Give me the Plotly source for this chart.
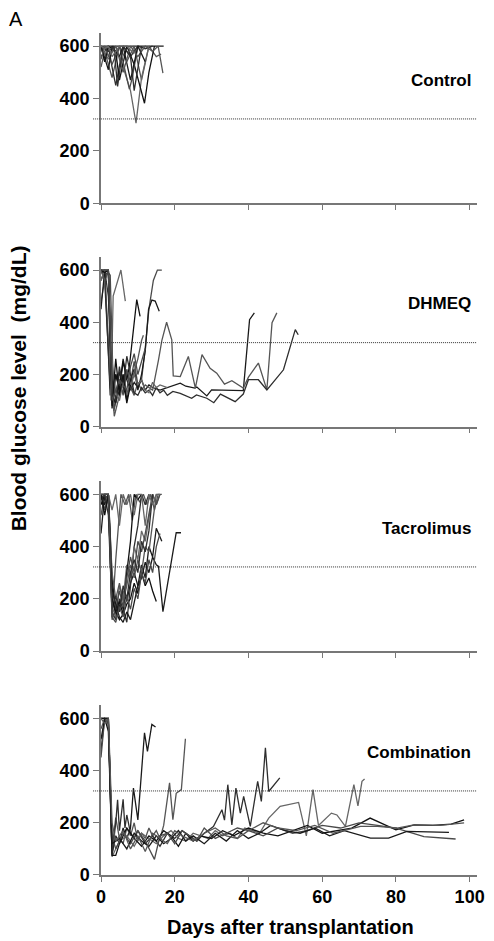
import plotly.graph_objects as go

# ---------------- DATA ----------------
x_tick_vals = [0, 20, 40, 60, 80, 100]
x_tick_labels = ["0", "20", "40", "60", "80", "100"]
y_tick_vals = [0, 200, 400, 600]
y_tick_labels = ["0", "200", "400", "600"]
threshold = 322
panel_names = ["Control", "DHMEQ", "Tacrolimus", "Combination"]

control_days = [
    [0, 2, 4, 6, 8, 10, 12, 14, 16, 17],
    [0, 1, 3, 5, 7, 9, 11, 13, 15, 16.3],
    [0, 2, 3, 4, 6, 8, 10, 12, 14],
    [0, 2, 4, 6, 8, 9.5, 11, 13],
    [0, 1, 2, 4, 5, 7, 9, 11.8, 13, 14.5],
    [0, 1, 3, 5, 7.7, 8.5, 10],
    [0, 2, 3, 5, 6, 8, 10, 12],
    [0, 1, 2, 4, 6, 8, 10, 12, 14, 15.5, 16.8],
    [0, 2, 3.5, 4.5, 6, 8, 9, 11],
    [0, 1, 2, 3, 5, 7, 9],
]
control_values = [
    [600, 600, 600, 600, 600, 600, 600, 600, 600, 600],
    [520, 580, 480, 600, 540, 600, 470, 600, 560, 570],
    [560, 600, 520, 450, 600, 560, 600, 590, 600],
    [600, 550, 600, 520, 430, 306, 480, 600],
    [600, 540, 600, 580, 470, 600, 530, 382, 500, 600],
    [580, 600, 530, 600, 436, 480, 600],
    [600, 510, 600, 560, 600, 470, 600, 540],
    [550, 600, 560, 600, 500, 600, 560, 600, 580, 600, 497],
    [600, 580, 600, 446, 600, 560, 430, 600],
    [600, 590, 600, 560, 600, 600, 570],
]

dhmeq_days = [
    [0, 1, 2.5, 4, 5, 6, 7, 8, 9, 10, 11, 12, 13, 14, 16, 18, 20, 21.5, 23, 25.5, 26, 28.7, 30, 34, 38.6, 40.3, 41.6],
    [0, 1, 2.5, 3.5, 5, 6, 7, 8, 9, 10, 11, 12, 13, 14, 15.6, 16.5, 17.8, 19.2, 19.6, 21.5, 23.7, 25.6, 27.4, 29.6, 31.4, 33.5, 35.5, 38.6, 40, 42.7, 45, 46.4, 47.7],
    [0, 1, 2.5, 3.5, 5, 6, 7, 8, 9, 10, 11, 12, 13, 14, 15, 16, 17, 18, 19.5, 21.5, 24.6, 25.9, 28.7, 30.6, 32.4, 36.4, 38.6, 40, 42.7, 45, 49.5, 52.7, 53.5],
    [0, 1, 2, 2.7, 3.3, 4.2, 5.4, 6.6],
    [0, 1, 2, 3, 4, 5, 6, 7, 7.7, 8.7, 9.7, 10.6],
    [0, 1.5, 2.5, 3.5, 5, 6, 7, 8, 9, 10, 11, 12, 13, 14.2, 15.3, 16.5],
    [0, 1, 2, 3, 4, 5, 6, 7, 8, 9, 10, 11, 12, 12.9, 13.8, 14.7, 15.8],
    [0, 1, 2, 3, 3.6, 5, 6, 7, 8, 9, 10, 11, 11.5],
    [0, 1, 2, 3, 4, 5, 6, 7, 8, 9],
    [0, 1, 2, 3, 4, 5, 6, 7, 8, 9, 10, 11, 12, 13, 14, 15, 16, 17, 18],
    [0, 1, 2, 3, 4, 5, 6, 7, 8],
    [0, 1, 2, 3, 5, 7, 8, 9, 10, 11, 12],
]
dhmeq_values = [
    [560, 600, 120, 200, 150, 260, 180, 140, 170, 150, 180, 140, 160, 150, 140, 150, 160, 167, 155, 148, 152, 118, 141, 140, 138, 410, 436],
    [600, 590, 200, 90, 160, 130, 210, 150, 120, 170, 140, 160, 150, 140, 256, 330, 400, 333, 195, 192, 269, 148, 276, 224, 205, 163, 176, 148, 190, 244, 141, 398, 436],
    [600, 560, 150, 70, 140, 200, 110, 160, 130, 120, 150, 130, 140, 120, 150, 130, 140, 120, 135, 128, 109, 122, 109, 92, 125, 96, 125, 180, 180, 141, 218, 372, 352],
    [480, 560, 600, 100, 500, 540, 600, 481],
    [600, 580, 590, 70, 200, 140, 250, 180, 231, 350, 487, 423],
    [600, 600, 580, 60, 180, 120, 220, 170, 250, 160, 180, 300, 450, 560, 600, 600],
    [450, 600, 600, 120, 90, 210, 160, 100, 180, 220, 140, 200, 290, 449, 485, 481, 442],
    [600, 560, 600, 150, 40, 120, 200, 130, 160, 210, 260, 330, 350],
    [600, 600, 500, 180, 100, 230, 150, 270, 200, 130],
    [560, 600, 600, 250, 130, 100, 170, 120, 150, 200, 160, 180, 140, 130, 170, 150, 160, 155, 150],
    [600, 590, 600, 80, 260, 120, 200, 90, 160],
    [600, 600, 600, 100, 180, 140, 230, 280, 200, 250, 300],
]

tacro_days = [
    [0, 1, 2, 3, 4, 5, 6, 7, 8, 9, 10, 11, 12, 13, 14, 15, 15.6, 16.8, 20.4, 21.7],
    [0, 1, 2, 3, 4, 5.4, 6.5, 7.5, 8.5, 9.5, 10.5, 11.5, 12.5, 13.5, 14.5, 15.5, 16.5],
    [0, 1, 2, 3, 4, 5, 6, 7, 8, 9, 10, 11, 12, 13],
    [0, 1, 2, 3, 4, 5, 6, 7, 8, 9, 10, 11, 12, 13, 14, 15, 16],
    [0, 1, 2, 3, 4, 5, 6, 7, 8, 9, 10, 11],
    [0, 1, 2, 3, 4, 5, 6, 7, 8, 9, 10, 11, 12, 13, 14, 15, 16],
    [0, 1, 2, 3, 4, 5, 6, 7, 8, 9, 10, 11, 12, 13, 14, 15, 16.5],
    [0, 1, 2, 3, 4, 5, 6, 7, 8, 9, 10, 11, 12, 13, 14, 15],
    [0, 1, 2, 3, 4, 5, 6, 7, 8, 9, 10, 11, 12, 13, 14],
    [0, 1, 2, 3, 4, 5, 6, 7, 8, 9, 10, 11, 12, 13, 14, 15, 16],
    [0, 1, 2, 3, 4, 5, 6, 7, 8, 9, 10, 11, 12, 13, 14, 15],
    [0, 1, 2, 3, 4, 5, 6, 7, 8, 9, 10, 11, 12, 13, 14, 15, 16],
]
tacro_values = [
    [600, 560, 600, 200, 140, 170, 230, 190, 260, 300, 250, 280, 340, 300, 360, 330, 324, 151, 453, 453],
    [520, 600, 600, 130, 350, 600, 560, 600, 500, 600, 570, 600, 560, 600, 540, 600, 600],
    [600, 580, 600, 150, 120, 200, 160, 110, 250, 400, 480, 600, 560, 600],
    [600, 600, 560, 170, 130, 250, 200, 330, 280, 400, 350, 460, 420, 520, 600, 560, 600],
    [560, 600, 600, 280, 150, 190, 140, 300, 420, 600, 580, 600],
    [600, 540, 600, 120, 160, 230, 170, 280, 360, 300, 420, 380, 450, 520, 600, 560, 600],
    [450, 600, 600, 240, 180, 130, 110, 150, 120, 180, 250, 330, 280, 400, 360, 470, 420],
    [600, 600, 600, 300, 200, 260, 190, 250, 330, 280, 350, 300, 400, 380, 480, 600],
    [580, 600, 520, 160, 210, 150, 250, 200, 300, 350, 300, 420, 380, 460, 600],
    [600, 600, 600, 540, 600, 480, 600, 560, 600, 520, 600, 600, 480, 600, 560, 600, 600],
    [600, 520, 600, 200, 150, 120, 140, 180, 200, 260, 220, 300, 250, 280, 230, 190],
    [600, 600, 600, 130, 110, 170, 130, 210, 160, 240, 200, 300, 260, 350, 300, 400, 450],
]

combo_days = [
    [0, 1, 2, 3, 4, 5, 6, 7, 8, 8.8, 10, 11.8, 12.6, 13.8, 14.8],
    [0, 1, 2, 3, 4, 5, 6, 7, 8, 9, 10, 11, 12, 13, 14, 15, 16, 17, 18.6, 19.5, 20.4, 21.8, 22.9],
    [0, 1, 2, 3, 4, 4.5, 5, 6, 6.5, 7, 8, 9, 10, 12, 14, 16, 18, 20, 22, 24, 26, 28, 30.5, 32.8, 33.5, 34.4, 35.5, 36.6, 37.8, 38.7, 40.5, 42.5, 43.5, 44.6, 45.5, 48.5],
    [0, 1, 2, 3, 5, 7, 9, 11, 13, 15, 17, 19, 21, 23, 25, 27, 29, 31, 33, 35, 37, 39, 41, 43, 45.5, 48.6, 53.6, 55.7, 57.5, 59, 62.5, 64, 66.3, 68.6, 69.7, 70.8, 71.5],
    [0, 1, 2, 3, 4, 5, 7, 9, 11, 13, 15, 17, 19, 21, 23, 25, 27, 30, 33, 36, 40, 44, 48, 52, 56, 60, 64, 68, 73, 80, 85, 90, 95, 98.5],
    [0, 1, 2, 3, 4, 6, 8, 10, 12, 14.5, 16, 18, 20, 22, 24, 26, 28, 31, 34, 37, 40, 44, 48, 52, 56, 60, 65, 70, 75, 80, 87.6, 96.2],
    [0, 1, 2, 3, 5, 7, 9, 11, 13, 15, 17, 19, 21, 23, 25, 28, 31, 34, 37, 40, 43, 46, 50, 54, 58, 62, 66, 73.1, 78, 83, 94.4],
    [0, 1, 2, 3, 4, 6, 8, 10, 12, 14, 16, 18, 20, 22, 25, 28, 31, 34, 37, 40, 44, 48, 53, 58, 63, 70.4, 75, 80.3, 84.9, 92, 98.5],
]
combo_values = [
    [600, 600, 580, 80, 150, 120, 180, 140, 180, 333, 211, 545, 474, 577, 567],
    [560, 600, 600, 100, 220, 140, 120, 180, 150, 200, 130, 160, 140, 180, 150, 170, 140, 190, 353, 212, 313, 327, 522],
    [480, 600, 600, 75, 200, 288, 170, 290, 180, 230, 160, 140, 170, 120, 150, 110, 160, 140, 170, 150, 130, 160, 186, 250, 210, 346, 192, 333, 237, 301, 186, 359, 282, 487, 320, 372],
    [600, 600, 590, 70, 130, 150, 110, 160, 140, 120, 150, 170, 140, 130, 160, 150, 140, 170, 150, 160, 140, 180, 170, 160, 218, 263, 278, 150, 327, 190, 237, 230, 186, 346, 265, 359, 368],
    [600, 600, 550, 75, 75, 120, 180, 140, 110, 150, 130, 170, 150, 110, 160, 130, 150, 140, 170, 150, 180, 160, 150, 170, 190, 160, 170, 180, 218, 173, 192, 190, 195, 211],
    [450, 600, 580, 150, 100, 160, 120, 170, 130, 60, 150, 160, 120, 170, 150, 130, 180, 140, 160, 180, 170, 150, 180, 160, 170, 190, 180, 200, 190, 180, 147, 138],
    [520, 600, 600, 120, 140, 100, 160, 130, 110, 150, 120, 140, 170, 130, 150, 120, 160, 130, 170, 140, 160, 190, 170, 160, 180, 150, 170, 141, 141, 167, 163],
    [600, 580, 600, 200, 130, 170, 100, 150, 90, 160, 140, 120, 170, 150, 130, 160, 180, 150, 140, 170, 200, 180, 170, 190, 160, 186, 186, 180, 192, 190, 200],
]

# ---------------- FIGURE ----------------
line_colors = ["#1a1a1a", "#555555", "#2e2e2e", "#666666", "#111111", "#4a4a4a"]
groups = [(control_days, control_values), (dhmeq_days, dhmeq_values),
          (tacro_days, tacro_values), (combo_days, combo_values)]
domains = [[0.7977, 1.0], [0.5324, 0.734], [0.266, 0.4676], [0.0, 0.2015]]

FONT = "Liberation Sans, Arial, sans-serif"
fig = go.Figure()
# page body has an 8px default margin -> shift margins to compensate
layout = dict(
    width=494, height=941, paper_bgcolor="white", plot_bgcolor="white",
    margin=dict(l=93, r=25, t=25, b=74, autoexpand=False), showlegend=False,
    font=dict(family=FONT, color="black"),
)
annotations = []
shapes = []
for i, (days, vals) in enumerate(groups):
    n = i + 1
    xs = "x" if n == 1 else f"x{n}"
    ys = "y" if n == 1 else f"y{n}"
    for k, (d, v) in enumerate(zip(days, vals)):
        fig.add_trace(go.Scatter(
            x=d, y=v, mode="lines", xaxis=xs, yaxis=ys,
            line=dict(color=line_colors[k % len(line_colors)], width=1.3),
            hoverinfo="skip", showlegend=False))
    layout["xaxis" if n == 1 else f"xaxis{n}"] = dict(
        domain=[0, 1], range=[0, 102], anchor=ys,
        tickvals=x_tick_vals, ticktext=x_tick_labels,
        showticklabels=(n == 4), ticks="outside", ticklen=5, tickwidth=1.2,
        tickcolor="#777777", showline=True, linecolor="#777777", linewidth=1.5,
        showgrid=False, zeroline=False, automargin=False,
        tickfont=dict(family=FONT, size=18, color="black", weight="bold"),
    )
    layout["yaxis" if n == 1 else f"yaxis{n}"] = dict(
        domain=domains[i], range=[0, 650], anchor=xs,
        tickvals=y_tick_vals, ticktext=y_tick_labels,
        ticks="outside", ticklen=6, tickwidth=1.2, tickcolor="#777777",
        showline=True, linecolor="#777777", linewidth=1.5,
        showgrid=False, zeroline=False, automargin=False,
        tickfont=dict(family=FONT, size=18, color="black", weight="bold"),
    )
    shapes.append(dict(type="line", xref="paper", yref=ys, x0=-0.021, x1=1,
                       y0=threshold, y1=threshold,
                       line=dict(color="#333333", width=1, dash="1px,1px")))
    annotations.append(dict(text=panel_names[i], xref=xs, yref=ys, x=101, y=470,
                            xanchor="right", yanchor="middle", showarrow=False,
                            font=dict(family=FONT, size=17, color="black", weight="bold")))

annotations.append(dict(text="Days after transplantation", xref="paper", yref="paper",
                        x=0.5027, y=-0.0618, xanchor="center", yanchor="middle",
                        showarrow=False,
                        font=dict(family=FONT, size=20, color="black", weight="bold")))
annotations.append(dict(text="Blood glucose level\u00a0 (mg/dL)", xref="paper", yref="paper",
                        x=-0.2207, y=0.578, xanchor="center", yanchor="middle",
                        textangle=-90, showarrow=False,
                        font=dict(family=FONT, size=21, color="black", weight="bold")))
annotations.append(dict(text="A", xref="paper", yref="paper", x=-0.226, y=1.0166,
                        xanchor="center", yanchor="middle", showarrow=False,
                        font=dict(family=FONT, size=20, color="black")))
layout["annotations"] = annotations
layout["shapes"] = shapes
fig.update_layout(**layout)
fig.write_html("out.html")
